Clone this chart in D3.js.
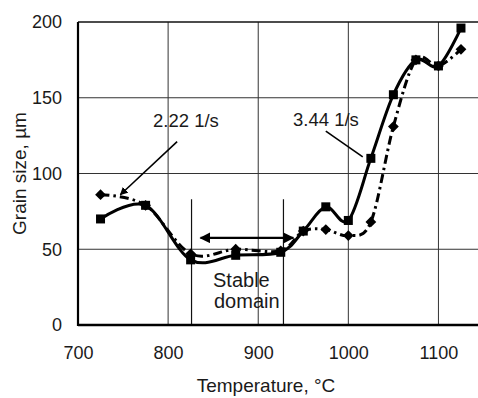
<!DOCTYPE html>
<html>
<head>
<meta charset="utf-8">
<script src="https://cdn.jsdelivr.net/npm/d3@7"></script>
<style>
  html, body { margin: 0; padding: 0; background: #fff; }
  svg { display: block; }
  text { font-family: "Liberation Sans", Arial, sans-serif; fill: #1a1a1a; }
</style>
</head>
<body>
<svg id="chart" width="478" height="398"></svg>
<script>
// Temperatures (°C) at which grain size was measured
const temperatures = [725, 775, 825, 875, 925, 950, 975, 1000, 1025, 1050, 1075, 1100, 1125];
// Grain size (µm) at strain rate 3.44 1/s (squares, solid line)
const grain344 = [70, 79, 43, 46, 48, 62, 78, 69, 110, 152, 175, 171, 196];
// Grain size (µm) at strain rate 2.22 1/s (diamonds, dash-dot line)
const grain222 = [86, 79, 47, 50, 49, 62, 63, 59, 68, 131, 175, 171, 182];

const xTicks = [700, 800, 900, 1000, 1100];
const yTicks = [0, 50, 100, 150, 200];
const xGridValues = [800, 900, 1000, 1100];
const yGridValues = [50, 100, 150];

// Stable domain bounds (°C) and the double arrow across it
const stableBounds = [826, 928];
const stableArrow = { from: 836, to: 939, y: 57.5 };

const svg = d3.select("#chart");

const x = d3.scaleLinear().domain([700, 1150]).range([78, 483.5]);
const y = d3.scaleLinear().domain([0, 200]).range([325, 22]);

// grid
const grid = svg.append("g");
grid.selectAll("line.v").data(xGridValues).join("line")
  .attr("x1", d => x(d)).attr("x2", d => x(d))
  .attr("y1", y(200)).attr("y2", y(0))
  .attr("stroke", "#333").attr("stroke-width", 1);
grid.selectAll("line.h").data(yGridValues).join("line")
  .attr("x1", x(700)).attr("x2", 478)
  .attr("y1", d => y(d)).attr("y2", d => y(d))
  .attr("stroke", "#333").attr("stroke-width", 1);
// top frame line
svg.append("line")
  .attr("x1", x(700)).attr("x2", 478)
  .attr("y1", y(200)).attr("y2", y(200))
  .attr("stroke", "#111").attr("stroke-width", 1.6);

// stable domain boundary lines
svg.selectAll("line.stable").data(stableBounds).join("line")
  .attr("x1", d => x(d)).attr("x2", d => x(d))
  .attr("y1", y(83)).attr("y2", y(0))
  .attr("stroke", "#111").attr("stroke-width", 1.2);

// axes
const xAxis = d3.axisBottom(x).tickValues(xTicks).tickFormat(d3.format("d"))
  .tickSize(0).tickPadding(21);
const yAxis = d3.axisLeft(y).tickValues(yTicks).tickFormat(d3.format("d"))
  .tickSize(0).tickPadding(16);

const gx = svg.append("g").attr("transform", `translate(0,${y(0)})`).call(xAxis);
gx.select(".domain").remove();
gx.selectAll("text").attr("font-size", 18).attr("fill", "#1a1a1a")
  .attr("font-family", "Liberation Sans, Arial, sans-serif");

const gy = svg.append("g").attr("transform", `translate(${x(700)},0)`).call(yAxis);
gy.select(".domain").remove();
gy.selectAll("text").attr("font-size", 18).attr("fill", "#1a1a1a")
  .attr("font-family", "Liberation Sans, Arial, sans-serif");

// axis lines (left and bottom)
svg.append("line").attr("x1", x(700)).attr("x2", x(700))
  .attr("y1", y(200)).attr("y2", y(0) + 1)
  .attr("stroke", "#000").attr("stroke-width", 2.2);
svg.append("line").attr("x1", x(700)).attr("x2", 478)
  .attr("y1", y(0)).attr("y2", y(0))
  .attr("stroke", "#000").attr("stroke-width", 2.4);

// axis titles
svg.append("text").attr("x", 266).attr("y", 392)
  .attr("text-anchor", "middle").attr("font-size", 19)
  .text("Temperature, °C");
svg.append("text")
  .attr("transform", `translate(26,${(y(0) + y(200)) / 2}) rotate(-90)`)
  .attr("text-anchor", "middle").attr("font-size", 19)
  .text("Grain size, µm");

// series
const s344 = temperatures.map((t, i) => [t, grain344[i]]);
const s222 = temperatures.map((t, i) => [t, grain222[i]]);

const line = d3.line().x(d => x(d[0])).y(d => y(d[1])).curve(d3.curveCardinal.tension(0));

svg.append("path").attr("d", line(s222))
  .attr("fill", "none").attr("stroke", "#000").attr("stroke-width", 3)
  .attr("stroke-dasharray", "9,4,2.5,4");
svg.append("path").attr("d", line(s344))
  .attr("fill", "none").attr("stroke", "#000").attr("stroke-width", 3);

// markers: diamonds for 2.22 1/s, squares for 3.44 1/s
svg.selectAll("path.dia").data(s222).join("path")
  .attr("transform", d => `translate(${x(d[0])},${y(d[1])}) rotate(45)`)
  .attr("d", d3.symbol().type(d3.symbolSquare).size(58))
  .attr("fill", "#000");
svg.selectAll("rect.sq").data(s344).join("rect")
  .attr("x", d => x(d[0]) - 4.5).attr("y", d => y(d[1]) - 4.5)
  .attr("width", 9).attr("height", 9)
  .attr("fill", "#000");

// arrow heads
const defs = svg.append("defs");
defs.append("marker").attr("id", "head")
  .attr("viewBox", "0 0 10 10").attr("refX", 9).attr("refY", 5)
  .attr("markerWidth", 5).attr("markerHeight", 5)
  .attr("markerUnits", "strokeWidth").attr("orient", "auto-start-reverse")
  .append("path").attr("d", "M0,0 L10,5 L0,10 Z").attr("fill", "#000");

// stable domain double arrow and label
svg.append("line")
  .attr("x1", x(stableArrow.from)).attr("x2", x(stableArrow.to))
  .attr("y1", y(stableArrow.y)).attr("y2", y(stableArrow.y))
  .attr("stroke", "#000").attr("stroke-width", 2.2)
  .attr("marker-start", "url(#head)").attr("marker-end", "url(#head)");
svg.append("text").attr("x", 213).attr("y", 287).attr("font-size", 20).text("Stable");
svg.append("text").attr("x", 214).attr("y", 308).attr("font-size", 20).text("domain");

// strain rate labels
svg.append("text").attr("x", 153).attr("y", 127).attr("font-size", 18.5).text("2.22 1/s");
svg.append("line")
  .attr("x1", x(810)).attr("y1", y(121))
  .attr("x2", x(747)).attr("y2", y(86))
  .attr("stroke", "#000").attr("stroke-width", 1.6)
  .attr("marker-end", "url(#head)");

svg.append("text").attr("x", 293).attr("y", 126).attr("font-size", 18.5).text("3.44 1/s");
svg.append("line")
  .attr("x1", x(975)).attr("y1", y(128))
  .attr("x2", x(1016)).attr("y2", y(111))
  .attr("stroke", "#000").attr("stroke-width", 1.6);
</script>
</body>
</html>
